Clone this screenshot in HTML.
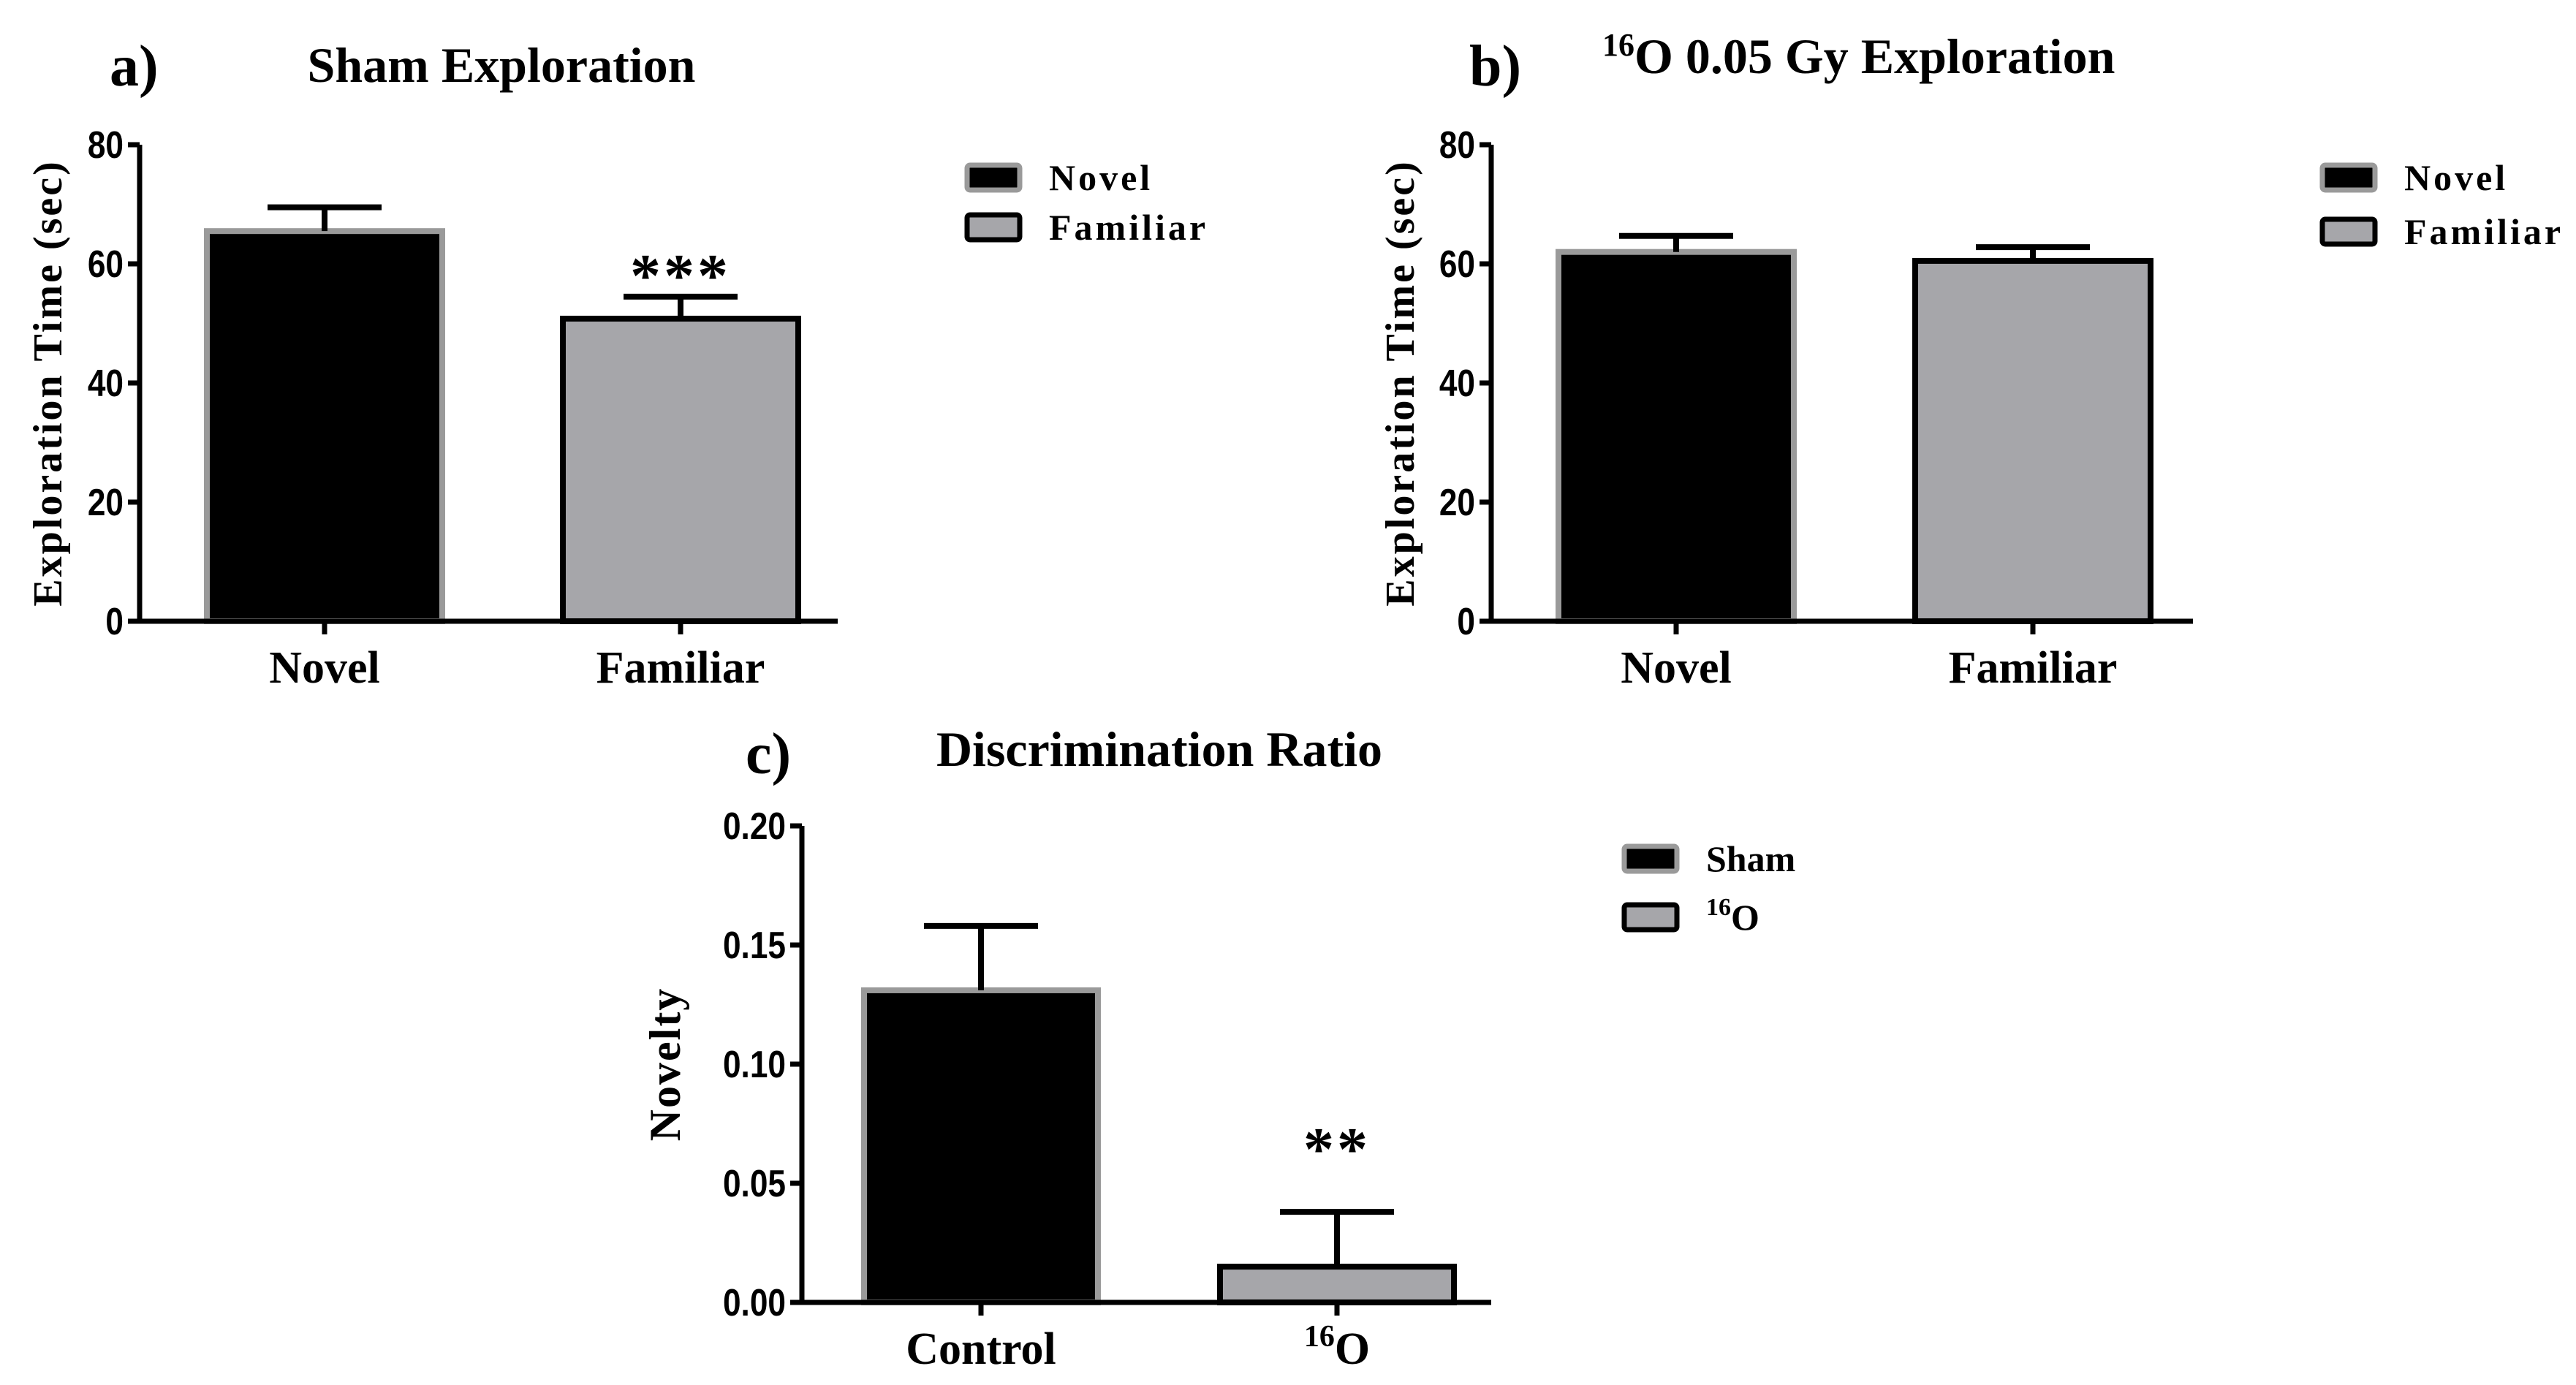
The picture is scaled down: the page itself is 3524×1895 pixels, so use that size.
<!DOCTYPE html>
<html><head><meta charset="utf-8"><style>
html,body{margin:0;padding:0;background:#fff;}
svg{display:block;}
.serif{font-family:"Liberation Serif",serif;font-weight:bold;}
.sans{font-family:"Liberation Sans",sans-serif;font-weight:bold;}
</style></head><body>
<svg id="fig" width="3524" height="1895" viewBox="0 0 3524 1895" xmlns="http://www.w3.org/2000/svg">
<rect width="3524" height="1895" fill="#fff"/>
<text class="serif" x="150" y="117" font-size="80">a)</text>
<text class="serif" x="686" y="112" font-size="68" text-anchor="middle">Sham Exploration</text>
<text class="serif" x="2010" y="117" font-size="80">b)</text>
<text class="serif" x="2192" y="100" font-size="68"><tspan font-size="44" dy="-24">16</tspan><tspan dy="24">O  0.05 Gy Exploration</tspan></text>
<text class="serif" x="1020" y="1058" font-size="80">c)</text>
<text class="serif" x="1586" y="1048" font-size="68" text-anchor="middle">Discrimination Ratio</text>
<g id="plots"></g>
</svg>
<script>
// Panel a data
const aCategories = ["Novel", "Familiar"];
const aValues = [65.5, 50.8];
const aErrors = [4.0, 3.7];
const aTicks = [0, 20, 40, 60, 80];
// Panel b data
const bCategories = ["Novel", "Familiar"];
const bValues = [62, 60.5];
const bErrors = [2.7, 2.3];
const bTicks = [0, 20, 40, 60, 80];
// Panel c data
const cCategories = ["Control", "16O"];
const cValues = [0.131, 0.015];
const cErrors = [0.027, 0.023];
const cTicks = [0.00, 0.05, 0.10, 0.15, 0.20];
const cTickLabels = ["0.00", "0.05", "0.10", "0.15", "0.20"];

const NS = "http://www.w3.org/2000/svg";
const root = document.getElementById("plots");
function mk(tag, attrs, parent) {
  const e = document.createElementNS(NS, tag);
  for (const k in attrs) e.setAttribute(k, attrs[k]);
  (parent || root).appendChild(e);
  return e;
}

function panel(p) {
  const g = mk("g", {});
  
  
  const ymax = p.ticks[p.ticks.length - 1];
  const y = v => p.y0 - (v / ymax) * (p.y0 - p.yTop);
  p.values.forEach((v, i) => {
    const x0 = p.barX[i];
    const bw = p.barW;
    const top = y(v);
    const r = mk("rect", {x: x0, y: top, width: bw, height: p.y0 - top,
      fill: i === 0 ? "#000" : "#a6a6aa", stroke: i === 0 ? "#9a9a9a" : "#000", "stroke-width": 8}, g);
    
    
    const cx = x0 + bw / 2;
    const et = y(v + p.errors[i]);
    const el = mk("path", {d: `M${cx},${top} V${et} M${cx - 78},${et} H${cx + 78}`, stroke: "#000", "stroke-width": 8, fill: "none"}, g);
    
    
    mk("line", {x1: cx, y1: p.y0, x2: cx, y2: p.y0 + 18, stroke: "#000", "stroke-width": 7}, g);
    const t = mk("text", {x: cx, y: p.y0 + 84, "text-anchor": "middle", "font-size": 62, class: "serif"}, g);
    if (p.categories[i] === "16O") {
      t.innerHTML = '<tspan font-size="42" dy="-24">16</tspan><tspan dy="24">O</tspan>';
    } else t.textContent = p.categories[i];
    
    
  });
  const ax = mk("path", {d: `M${p.axX},${p.yTop} V${p.y0} H${p.axEnd}`, stroke: "#000", "stroke-width": 7, fill: "none"}, g);
  
  
  p.ticks.forEach((tv, i) => {
    const ty = y(tv);
    mk("line", {x1: p.axX - 16, y1: ty, x2: p.axX, y2: ty, stroke: "#000", "stroke-width": 7}, g);
    const t = mk("text", {x: p.axX - 22, y: ty + 18, "text-anchor": "end", "font-size": 52, class: "sans",
      transform: `translate(${(p.axX - 22) * 0.15},0) scale(0.85,1)`}, g);
    t.textContent = p.tickLabels ? p.tickLabels[i] : String(tv);
    
    
  });
  const yt = mk("text", {x: 0, y: 0, "text-anchor": "middle", "font-size": p.yFont, class: "serif", "letter-spacing": p.yLs,
    transform: `translate(${p.yTitleX},${(p.y0 + p.yTop) / 2}) rotate(-90)`}, g);
  yt.textContent = p.yTitle;
  
  
  if (p.sig) {
    const s = mk("text", {x: p.barX[1] + p.barW / 2, y: p.sigY, "text-anchor": "middle", "font-size": 84, class: "serif", "font-weight": "normal", "letter-spacing": 4}, g);
    s.textContent = p.sig;
    
    
  }
  p.legend.forEach((lab, i) => {
    const ly = p.legY + i * p.legGap;
    const r = mk("rect", {x: p.legX, y: ly, width: 72, height: 34, rx: 4,
      fill: i === 0 ? "#000" : "#a6a6aa", stroke: i === 0 ? "#9a9a9a" : "#000", "stroke-width": 7}, g);
    
    
    const t = mk("text", {x: p.legX + 112, y: ly + 34, "font-size": p.legFont, class: "serif", "letter-spacing": p.legSpace}, g);
    if (lab === "16O") t.innerHTML = '<tspan font-size="34" dy="-20">16</tspan><tspan dy="20">O</tspan>';
    else t.textContent = lab;
    
    
  });
}

panel({name: "panel-a-chart", categories: aCategories, catNames: ["novel", "familiar"], values: aValues, errors: aErrors,
  ticks: aTicks, y0: 850, yTop: 198, axX: 191, axEnd: 1146, barX: [283, 770], barW: 322,
  yTitle: "Exploration Time (sec)", yTitleX: 84, yFont: 56, yLs: 3, sig: "***", sigY: 405,
  legend: ["Novel", "Familiar"], legX: 1323, legY: 226, legGap: 68, legFont: 50, legSpace: 4});
panel({name: "panel-b-chart", categories: bCategories, catNames: ["novel", "familiar"], values: bValues, errors: bErrors,
  ticks: bTicks, y0: 850, yTop: 198, axX: 2040, axEnd: 3000, barX: [2132, 2620], barW: 322,
  yTitle: "Exploration Time (sec)", yTitleX: 1934, yFont: 56, yLs: 3, sig: null,
  legend: ["Novel", "Familiar"], legX: 3177, legY: 226, legGap: 74, legFont: 50, legSpace: 4});
panel({name: "panel-c-chart", categories: cCategories, catNames: ["control", "16o"], values: cValues, errors: cErrors,
  ticks: cTicks, tickLabels: cTickLabels, y0: 1782, yTop: 1130, axX: 1097, axEnd: 2040, barX: [1182, 1669], barW: 320,
  yTitle: "Novelty", yTitleX: 930, yFont: 60, yLs: 2, sig: "**", sigY: 1600,
  legend: ["Sham", "16O"], legX: 2222, legY: 1158, legGap: 80, legFont: 50, legSpace: 0});
</script>
</body></html>
